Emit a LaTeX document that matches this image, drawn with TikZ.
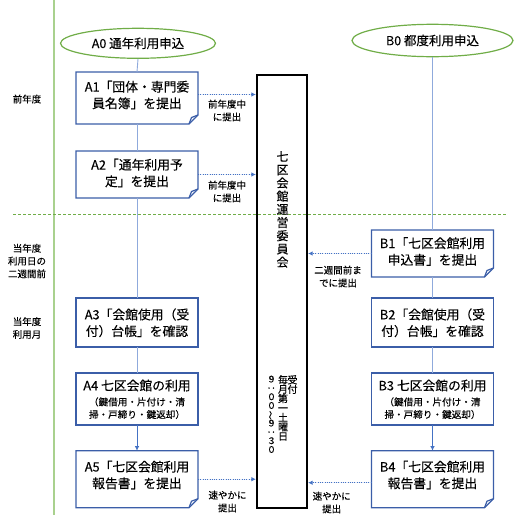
\documentclass[tikz,border=0pt]{standalone}
\usepackage{fontspec}
\setmainfont{Noto Sans CJK JP}[FakeBold=0.25]
\usepackage{graphicx}
\usetikzlibrary{arrows.meta,shapes.geometric}
\definecolor{boxblue}{HTML}{3B5EA8}
\definecolor{connblue}{HTML}{8FAADC}
\definecolor{arrowblue}{HTML}{4472C4}
\definecolor{ellgreen}{HTML}{70AD47}
\definecolor{lanegreen}{HTML}{A9D18E}
\newcommand{\foldbox}[1]{%
  \draw[boxline] (#1.north west) -- (#1.north east) -- ([yshift=9pt]#1.south east)
     -- ([xshift=-9pt]#1.south east) -- (#1.south west) -- cycle;
  \draw[boxline] ([xshift=-9pt]#1.south east) .. controls ([xshift=-8.2pt,yshift=4pt]#1.south east) .. ([xshift=-6.5pt,yshift=6.5pt]#1.south east) -- ([yshift=9pt]#1.south east);
}
\newcommand{\rotch}[1]{\smash{\rotatebox[origin=c]{90}{#1}}}
\tikzset{
  boxline/.style={draw=boxblue,line width=1.2pt,line join=miter},
  boxshape/.style={minimum width=122pt,inner sep=0pt,outer sep=0pt},
  plainbox/.style={boxshape,draw=boxblue,line width=1.2pt},
  btxt/.style={font=\fontsize{12.8}{16.6}\selectfont,align=center,inner sep=0pt},
  stxt/.style={font=\fontsize{9.6}{12.6}\selectfont,align=center,inner sep=0pt},
  lbl/.style={font=\fontsize{9.5}{12.8}\selectfont,align=center,inner sep=0pt},
  ell/.style={ellipse,draw=ellgreen,line width=1.2pt,fill=white,inner sep=0pt,font=\fontsize{12.5}{14}\selectfont},
  conn/.style={draw=connblue,line width=0.9pt},
  solidarr/.style={draw=arrowblue,line width=0.9pt,-{Latex[length=4.5pt,width=4.5pt]}},
  darr/.style={draw=arrowblue,line width=0.9pt,dash pattern=on 1pt off 1.3pt,-{Latex[length=4.5pt,width=4.5pt]},fill=arrowblue},
  vtxt/.style={align=center,inner sep=0pt,anchor=north},
}
\begin{document}
\begin{tikzpicture}[x=1pt,y=-1pt]
\useasboundingbox (0,0) rectangle (520,517);
% lane line and period separator
\coordinate (gtop) at (54,0);
\coordinate (gbot) at (54,515);
\draw[draw=lanegreen,line width=2.2pt] (gtop) -- (gbot);
\coordinate (dl) at (13,214.3);
\coordinate (dr) at (507,214.3);
\draw[draw=ellgreen,line width=0.8pt,dash pattern=on 3pt off 2pt] (dl) -- (dr);

% period labels
\node[lbl] (p1) at (27,99) {前年度};
\node[lbl] (p2) at (27,261) {当年度\\利用日の\\二週間前};
\node[lbl] (p3) at (27,328) {当年度\\利用月};

% start ellipses
\node[ell,minimum width=155pt,minimum height=30pt] (A0) at (138,43.3) {A0 通年利用申込};
\node[ell,minimum width=161pt,minimum height=32.4pt] (B0) at (432.5,40.5) {B0 都度利用申込};

% A column boxes
\node[boxshape,minimum height=52pt] (A1) at (137,98) {};
\node[boxshape,minimum height=47pt] (A2) at (137,174.5) {};
\node[plainbox,minimum height=49pt] (A3) at (137,322.5) {};
\node[plainbox,minimum height=52pt] (A4) at (137,399) {};
\node[boxshape,minimum height=57pt] (A5) at (137,479.2) {};
\foldbox{A1}
\foldbox{A2}
\foldbox{A5}
\node[btxt] (A1t) at (137,95) {A1「団体・専門委\\員名簿」を提出};
\node[btxt] (A2t) at (137,173) {A2「通年利用予\\定」を提出};
\node[btxt] (A3t) at (137,322.8) {A3「会館使用（受\\付）台帳」を確認};
\node[btxt] (A4t) at (137,385.5) {A4 七区会館の利用};
\node[stxt] (A4s) at (137,408.2) {（鍵借用・片付け・清\\掃・戸締り・鍵返却）};
\node[btxt] (A5t) at (137,475) {A5「七区会館利用\\報告書」を提出};

% B column boxes
\node[boxshape,minimum height=47pt] (B1) at (432.5,253.5) {};
\node[plainbox,minimum height=49pt] (B2) at (432.5,322.5) {};
\node[plainbox,minimum height=52pt] (B3) at (432.5,399) {};
\node[boxshape,minimum height=57pt] (B4) at (432.5,479.2) {};
\foldbox{B1}
\foldbox{B4}
\node[btxt] (B1t) at (432.5,251.5) {B1「七区会館利用\\申込書」を提出};
\node[btxt] (B2t) at (432.5,322.8) {B2「会館使用（受\\付）台帳」を確認};
\node[btxt] (B3t) at (432.5,385.5) {B3 七区会館の利用};
\node[stxt] (B3s) at (432.5,408.2) {（鍵借用・片付け・清\\掃・戸締り・鍵返却）};
\node[btxt] (B4t) at (432.5,475) {B4「七区会館利用\\報告書」を提出};

% committee box
\node[draw=black,line width=2.2pt,minimum width=50pt,minimum height=433pt,inner sep=0pt] (C) at (282,291.5) {};
\node[vtxt,font=\fontsize{12}{13.2}\selectfont] (Ct) at (282.5,151) {七\\区\\会\\館\\運\\営\\委\\員\\会};
\node[vtxt,font=\fontsize{10}{9.4}\selectfont] (Cr1) at (292.5,375) {受\\付};
\node[vtxt,font=\fontsize{10}{9.4}\selectfont] (Cr2) at (283,375) {毎\\月\\第\\一\\土\\曜\\日};
\node[vtxt,font=\fontsize{9}{8.8}\selectfont] (Cr3) at (271.5,375.5) {９\\\rotch{：}\\０\\０\\\rotch{～}\\９\\\rotch{：}\\３\\０};

% vertical flow connectors
\draw[conn] (A0.south) -- (A1.north);
\draw[conn] (A1.south) -- (A2.north);
\draw[conn] (A2.south) -- (A3.north);
\draw[conn] (A3.south) -- (A4.north);
\draw[solidarr] (A4.south) -- (A5.north);
\draw[conn] (B0.south) -- (B1.north);
\draw[conn] (B1.south) -- (B2.north);
\draw[conn] (B2.south) -- (B3.north);
\draw[solidarr] (B3.south) -- (B4.north);

% submissions to committee
\coordinate (a1r) at ([yshift=3.5pt]A1.east);
\draw[darr] (a1r) -- (a1r -| C.west);
\draw[darr] (A2.east) -- (A2.east -| C.west);
\draw[darr] (A5.east) -- (A5.east -| C.west);
\draw[darr] (B1.west) -- (B1.west -| C.east);
\coordinate (b4l) at ([yshift=-3.5pt]B4.west);
\draw[darr] (b4l) -- (b4l -| C.east);

\node[lbl] (l1) at (227,110.5) {前年度中\\に提出};
\node[lbl] (l2) at (227,191.5) {前年度中\\に提出};
\node[lbl] (l3) at (338,276.5) {二週間前ま\\でに提出};
\node[lbl] (l4) at (227.5,501.5) {速やかに\\提出};
\node[lbl] (l5) at (331.7,502.5) {速やかに\\提出};
\end{tikzpicture}
\end{document}
